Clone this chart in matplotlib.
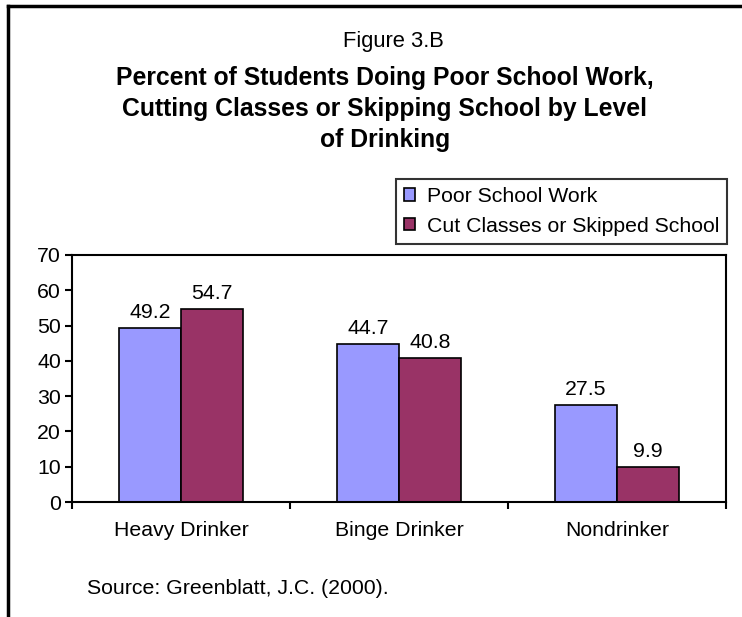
import matplotlib
matplotlib.use("Agg")
import matplotlib.pyplot as plt
import numpy as np
from matplotlib.lines import Line2D

categories = ["Heavy Drinker", "Binge Drinker", "Nondrinker"]
series_names = ["Poor School Work", "Cut Classes or Skipped School"]
poor_work = [49.2, 44.7, 27.5]
cut_classes = [54.7, 40.8, 9.9]
colors = ["#9999FF", "#993366"]
yticks = [0, 10, 20, 30, 40, 50, 60, 70]

plt.rcParams['font.family'] = ['Liberation Sans', 'DejaVu Sans']
FS = 15.3

W, H = 742, 617
fig = plt.figure(figsize=(W/100, H/100), dpi=100)
ax = fig.add_axes([72/W, 1-502/H, (726-72)/W, (502-255)/H])

x = np.arange(len(categories))
bw = 1/3.5
for i, (vals, name, c) in enumerate(zip([poor_work, cut_classes], series_names, colors)):
    pos = x + (i - 0.5) * bw
    bars = ax.bar(pos, vals, width=bw, color=c, edgecolor='black', linewidth=1.2, label=name)
    for b, v in zip(bars, vals):
        ax.annotate(f"{v}", (b.get_x() + b.get_width()/2, v), xytext=(0, 7.5),
                    textcoords='offset points', ha='center', va='baseline', fontsize=FS)

ax.set_xlim(-0.5, len(categories) - 0.5)
ax.set_ylim(0, 70)
ax.set_yticks(yticks)
ax.set_yticklabels([str(t) for t in yticks], fontsize=FS)
ax.set_xticks(x)
ax.set_xticklabels(categories, fontsize=FS)
ax.tick_params(axis='x', length=0, pad=14)
ax.set_xticks(np.arange(len(categories) + 1) - 0.5, minor=True)
ax.tick_params(axis='x', which='minor', length=5, width=1.5, direction='out')
ax.tick_params(axis='y', length=5, width=1.5, direction='out', pad=3)
for s in ax.spines.values():
    s.set_linewidth(1.5)

fig.text(393/W, 1-42/H, "Figure 3.B", ha='center', va='center', fontsize=FS + 0.5)
fig.text(385/W, 1-109/H, "Percent of Students Doing Poor School Work,\nCutting Classes or Skipping School by Level\nof Drinking",
         ha='center', va='center', fontsize=17.8, fontweight='bold', linespacing=1.38)
fig.text(87/W, 1-588/H, "Source: Greenblatt, J.C. (2000).", ha='left', va='center', fontsize=FS)

leg = fig.legend(loc='upper right', bbox_to_anchor=(727/W, 1-179/H), fontsize=FS,
                 frameon=True, fancybox=False, edgecolor='black', handlelength=0.5, handleheight=0.5,
                 handletextpad=0.55, borderpad=0.38, labelspacing=0.5, borderaxespad=0)
leg.get_frame().set_linewidth(1.5)

fig.add_artist(Line2D([8/W, 8/W], [0, 1-6/H], color='black', linewidth=2.5))
fig.add_artist(Line2D([8/W, 1], [1-6/H, 1-6/H], color='black', linewidth=2.5))

fig.savefig("out.png", dpi=100)
